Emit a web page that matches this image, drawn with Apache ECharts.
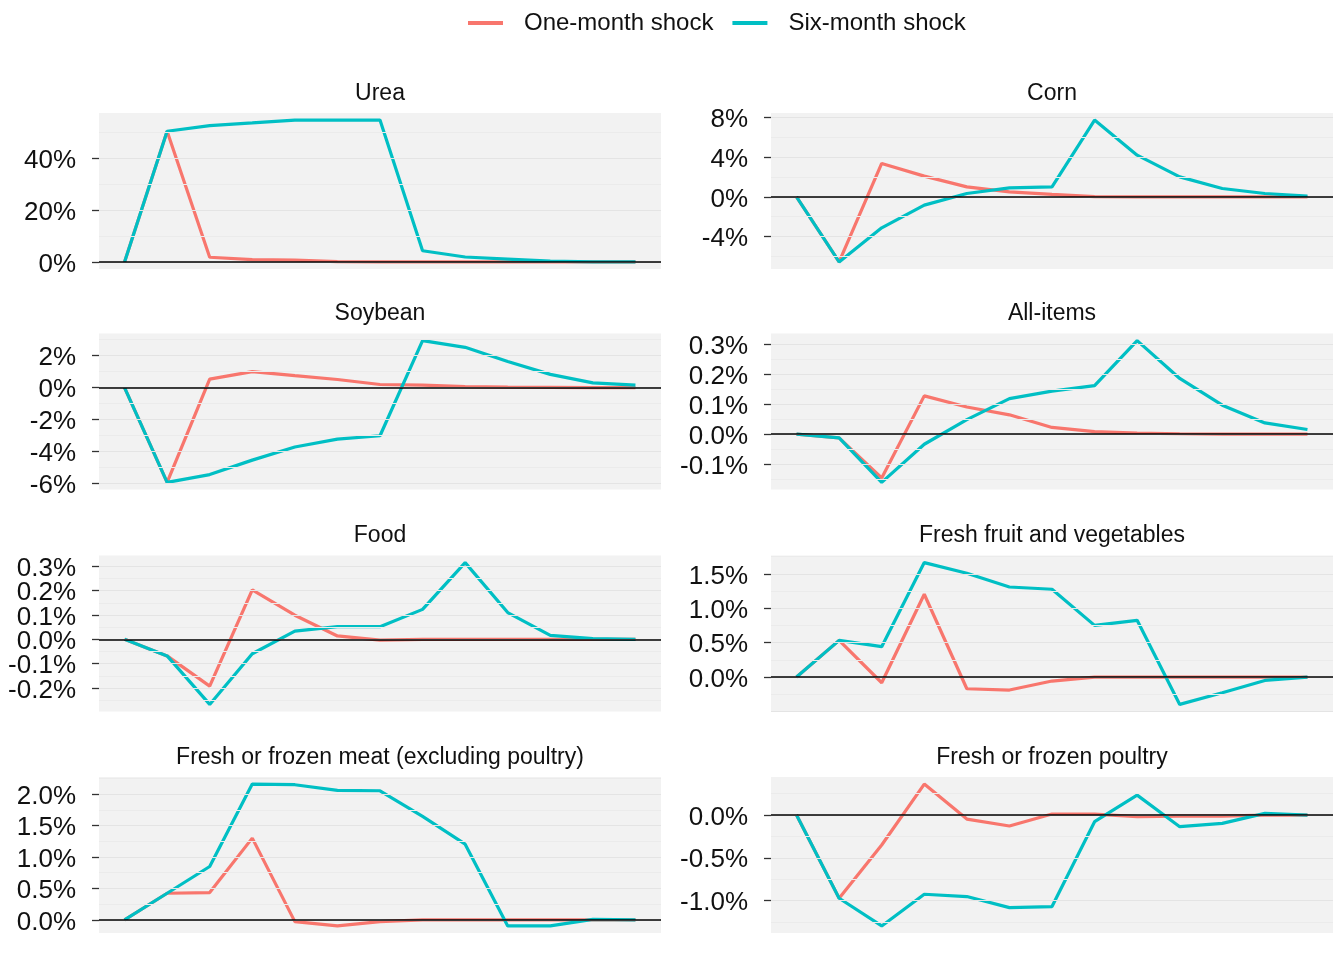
<!DOCTYPE html>
<html>
<head>
<meta charset="utf-8">
<script src="https://cdn.jsdelivr.net/npm/echarts@6/dist/echarts.min.js"></script>
<style>html,body{margin:0;padding:0;background:#fff;}#chart{width:1344px;height:960px;}</style>
</head>
<body>
<div id="chart"></div>
<script>
// ---- Data (months after shock, impulse responses in %) ----
const months = [0,1,2,3,4,5,6,7,8,9,10,11,12];
const seriesNames = ['One-month shock', 'Six-month shock'];

const panelTitles = ['Urea','Corn','Soybean','All-items','Food','Fresh fruit and vegetables','Fresh or frozen meat (excluding poultry)','Fresh or frozen poultry'];

const ureaOne = [0, 50.3, 1.8, 0.9, 0.7, 0.1, 0.05, 0.03, 0.02, 0.01, 0, 0, 0];
const ureaSix = [0, 50.3, 52.5, 53.5, 54.6, 54.6, 54.6, 4.3, 1.9, 1.1, 0.3, 0.05, 0];
const ureaTicks = [0, 20, 40];
const ureaTickLabels = ['0%', '20%', '40%'];

const cornOne = [0, -6.57, 3.37, 2.09, 1.01, 0.5, 0.24, 0.02, 0, 0, 0, 0, 0];
const cornSix = [0, -6.57, -3.13, -0.84, 0.34, 0.91, 1.01, 7.75, 4.21, 2.02, 0.84, 0.34, 0.07];
const cornTicks = [-4, 0, 4, 8];
const cornTickLabels = ['-4%', '0%', '4%', '8%'];

const soyOne = [0, -5.92, 0.53, 0.99, 0.74, 0.5, 0.19, 0.15, 0.06, 0.02, 0.01, 0, 0];
const soySix = [0, -5.92, -5.43, -4.53, -3.71, -3.22, -3.01, 2.93, 2.51, 1.62, 0.82, 0.29, 0.15];
const soyTicks = [-6, -4, -2, 0, 2];
const soyTickLabels = ['-6%', '-4%', '-2%', '0%', '2%'];

const allOne = [0, -0.013, -0.146, 0.127, 0.09, 0.064, 0.022, 0.008, 0.003, 0.001, 0, 0, 0];
const allSix = [0, -0.013, -0.161, -0.034, 0.048, 0.118, 0.143, 0.161, 0.311, 0.185, 0.096, 0.037, 0.015];
const allTicks = [-0.1, 0, 0.1, 0.2, 0.3];
const allTickLabels = ['-0.1%', '0.0%', '0.1%', '0.2%', '0.3%'];

const foodOne = [0, -0.068, -0.192, 0.203, 0.099, 0.014, -0.003, 0, 0, 0, 0, 0, 0];
const foodSix = [0, -0.068, -0.267, -0.059, 0.034, 0.052, 0.052, 0.123, 0.315, 0.11, 0.016, 0.003, 0];
const foodTicks = [-0.2, -0.1, 0, 0.1, 0.2, 0.3];
const foodTickLabels = ['-0.2%', '-0.1%', '0.0%', '0.1%', '0.2%', '0.3%'];

const ffvOne = [0, 0.534, -0.083, 1.204, -0.17, -0.189, -0.058, 0, 0, 0, 0, 0, 0];
const ffvSix = [0, 0.534, 0.442, 1.665, 1.51, 1.31, 1.277, 0.752, 0.825, -0.398, -0.228, -0.049, 0];
const ffvTicks = [0, 0.5, 1.0, 1.5];
const ffvTickLabels = ['0.0%', '0.5%', '1.0%', '1.5%'];

const meatOne = [0, 0.424, 0.435, 1.30, -0.027, -0.095, -0.027, 0, 0, 0, 0, 0, 0];
const meatSix = [0, 0.424, 0.849, 2.159, 2.149, 2.058, 2.053, 1.645, 1.204, -0.095, -0.095, 0.01, 0];
const meatTicks = [0, 0.5, 1.0, 1.5, 2.0];
const meatTickLabels = ['0.0%', '0.5%', '1.0%', '1.5%', '2.0%'];

const poultryOne = [0, -0.973, -0.35, 0.362, -0.047, -0.128, 0.012, 0.012, -0.019, -0.012, -0.012, 0, 0];
const poultrySix = [0, -0.973, -1.296, -0.926, -0.953, -1.082, -1.07, -0.078, 0.233, -0.136, -0.097, 0.019, 0];
const poultryTicks = [-1.0, -0.5, 0];
const poultryTickLabels = ['-1.0%', '-0.5%', '0.0%'];

// ---- Build chart ----
const panelData = [
  [ureaOne, ureaSix, ureaTicks, ureaTickLabels],
  [cornOne, cornSix, cornTicks, cornTickLabels],
  [soyOne, soySix, soyTicks, soyTickLabels],
  [allOne, allSix, allTicks, allTickLabels],
  [foodOne, foodSix, foodTicks, foodTickLabels],
  [ffvOne, ffvSix, ffvTicks, ffvTickLabels],
  [meatOne, meatSix, meatTicks, meatTickLabels],
  [poultryOne, poultrySix, poultryTicks, poultryTickLabels]
];

const FONT = '"Liberation Sans", Arial, sans-serif';
const colors = ['#F8766D', '#00BFC4'];
const colLeft = [99, 771];
const gridW = 562;
const rowTop = [113, 333.5, 555.5, 777];
const gridH = 156;

const grids = [], xAxes = [], yAxes = [], series = [], titles = [];

function makeYAxis(i, lo, hi, tickVals, ticks, tickLabels) {
  return {
    type: 'value', gridIndex: i, min: lo, max: hi, position: 'left', offset: 0,
    axisLine: { show: false, onZero: false },
    splitLine: { show: false },
    axisTick: { show: true, length: 7, customValues: tickVals, lineStyle: { color: '#333', width: 1.3 } },
    axisLabel: {
      customValues: tickVals, margin: 23, fontSize: 26, fontFamily: FONT, color: '#111',
      interval: 0, showMinLabel: true, showMaxLabel: true, hideOverlap: false,
      formatter: v => {
        let idx = 0, best = Infinity;
        ticks.forEach((t, j) => { const d = Math.abs(t - v); if (d < best) { best = d; idx = j; } });
        return '{v|' + tickLabels[idx] + '}';
      },
      rich: { v: { fontSize: 26, fontFamily: FONT, color: '#111', padding: [5, 0, 0, 0] } }
    }
  };
}

panelData.forEach((p, i) => {
  const [one, six, ticks, tickLabels] = p;
  const col = i % 2, row = Math.floor(i / 2);
  const all = one.concat(six);
  const dMin = Math.min.apply(null, all), dMax = Math.max.apply(null, all);
  const pad = 0.05 * (dMax - dMin);
  const lo = dMin - pad, hi = dMax + pad;
  const step = ticks[1] - ticks[0];
  const gl = [];
  const kStart = Math.floor(lo / step) - 1, kEnd = Math.ceil(hi / step) + 1;
  for (let k = kStart; k <= kEnd; k++) {
    const major = +(k * step).toFixed(6);
    const minor = +((k + 0.5) * step).toFixed(6);
    if (major >= lo && major <= hi) gl.push({ yAxis: major, lineStyle: { color: '#e4e4e4', width: 1.2, type: 'solid' } });
    if (minor >= lo && minor <= hi) gl.push({ yAxis: minor, lineStyle: { color: '#ebebeb', width: 1, type: 'solid' } });
  }
  gl.push({ yAxis: 0, lineStyle: { color: '#000', width: 1.6, type: 'solid' } });

  grids.push({
    left: colLeft[col], top: rowTop[row], width: gridW, height: gridH,
    show: true, backgroundColor: '#f2f2f2', borderWidth: 0, containLabel: false
  });
  xAxes.push({
    type: 'value', gridIndex: i, min: -0.6, max: 12.6,
    show: false
  });
  // two label axes per panel (alternate ticks) so close labels are never auto-hidden
  const evenT = ticks.filter((t, j) => j % 2 === 0);
  const oddT = ticks.filter((t, j) => j % 2 === 1);
  const yIdx = yAxes.length;
  yAxes.push(makeYAxis(i, lo, hi, evenT, ticks, tickLabels));
  yAxes.push(makeYAxis(i, lo, hi, oddT, ticks, tickLabels));

  series.push({
    type: 'line', xAxisIndex: i, yAxisIndex: yIdx, data: [], silent: true, z: 1,
    markLine: { silent: true, symbol: ['none', 'none'], label: { show: false }, animation: false, data: gl }
  });
  [one, six].forEach((vals, s) => {
    series.push({
      name: seriesNames[s], type: 'line', xAxisIndex: i, yAxisIndex: yIdx, z: 3 + s,
      data: months.map((m, j) => [m, vals[j]]),
      showSymbol: false, symbol: 'none',
      lineStyle: { color: colors[s], width: 3.2 },
      itemStyle: { color: colors[s] }
    });
  });
  titles.push({
    text: panelTitles[i], left: colLeft[col] + gridW / 2, top: rowTop[row] - 31, textAlign: 'center', padding: 0,
    textStyle: { fontSize: 23, fontWeight: 'normal', fontFamily: FONT, color: '#111' }
  });
});

const chart = echarts.init(document.getElementById('chart'));
chart.setOption({
  animation: false,
  backgroundColor: '#fff',
  title: titles,
  legend: {
    data: seriesNames, top: 6, left: 463, itemWidth: 35, itemHeight: 4, itemGap: 19, icon: 'rect',
    textStyle: { fontSize: 24, fontFamily: FONT, color: '#111', padding: [0, 0, 0, 16] }
  },
  grid: grids,
  xAxis: xAxes,
  yAxis: yAxes,
  series: series
});
</script>
</body>
</html>
